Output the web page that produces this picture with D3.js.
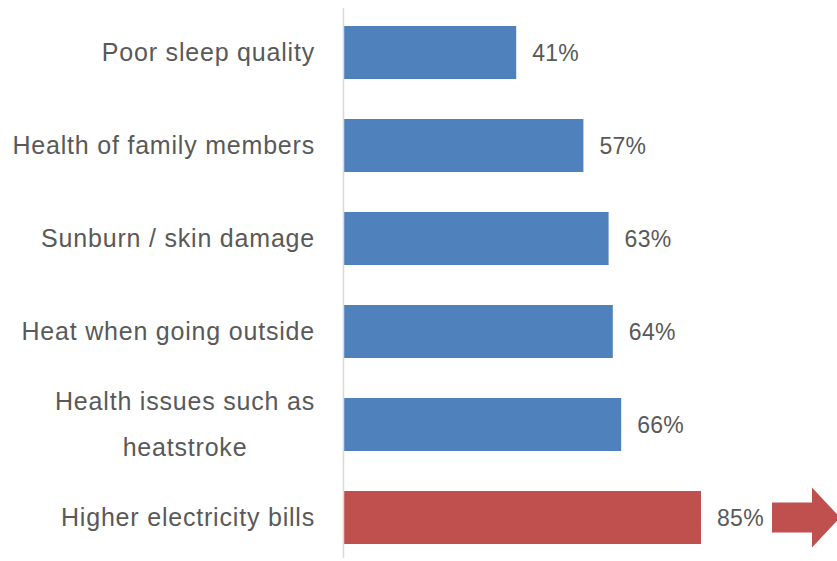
<!DOCTYPE html>
<html lang="en">
  <head>
    <meta charset="utf-8" />
    <title>Heat concerns</title>
    <script src="https://cdnjs.cloudflare.com/ajax/libs/d3/7.0.0/d3.min.js"></script>
    <style>
      body {
        margin: 0;
        background: #ffffff;
        font-family: "Liberation Sans", Arial, sans-serif;
      }
      .cat {
        font-size: 25px;
        letter-spacing: 0.8px;
        fill: #595959;
      }
      .val {
        font-size: 23px;
        letter-spacing: 0.3px;
        fill: #595959;
      }
    </style>
  </head>
  <body>
    <div id="chart"></div>
    <script>
      // data
      const categories = [
        ["Poor sleep quality"],
        ["Health of family members"],
        ["Sunburn / skin damage"],
        ["Heat when going outside"],
        ["Health issues such as", "heatstroke"],
        ["Higher electricity bills"],
      ];
      const values = [41, 57, 63, 64, 66, 85];
      const colors = ["#4f81bd", "#4f81bd", "#4f81bd", "#4f81bd", "#4f81bd", "#c0504d"];

      const width = 837;
      const height = 561;
      const left = 344;
      const labelRight = 315;

      const svg = d3
        .select("#chart")
        .append("svg")
        .attr("width", width)
        .attr("height", height);

      const x = d3.scaleLinear().domain([0, 100]).range([left, left + 420]);
      const y = d3
        .scaleBand()
        .domain(d3.range(values.length))
        .range([6, 564])
        .paddingInner(0.43)
        .paddingOuter(0.215);

      // bars
      svg
        .selectAll(".bar")
        .data(values)
        .enter()
        .append("rect")
        .attr("class", "bar")
        .attr("x", x(0))
        .attr("y", (d, i) => y(i))
        .attr("width", (d) => x(d) - x(0))
        .attr("height", y.bandwidth())
        .attr("fill", (d, i) => colors[i]);

      // vertical axis line
      svg
        .append("line")
        .attr("x1", x(0) - 0.5)
        .attr("x2", x(0) - 0.5)
        .attr("y1", 8)
        .attr("y2", 558)
        .attr("stroke", "#d9d9d9")
        .attr("stroke-width", 1.5);

      // value labels
      svg
        .selectAll(".val")
        .data(values)
        .enter()
        .append("text")
        .attr("class", "val")
        .attr("x", (d) => x(d) + 16)
        .attr("y", (d, i) => y(i) + y.bandwidth() / 2)
        .attr("dy", "0.35em")
        .text((d) => d + "%");

      // category labels (multi-line ones are centred as a block)
      const lineGap = 46;
      categories.forEach((lines, i) => {
        const cy = y(i) + y.bandwidth() / 2;
        const t = svg.append("text").attr("class", "cat");
        lines.forEach((ln, j) => {
          t.append("tspan")
            .attr("y", cy + (j - (lines.length - 1) / 2) * lineGap)
            .attr("dy", "0.35em")
            .text(ln);
        });
        if (lines.length === 1) {
          t.attr("text-anchor", "end").selectAll("tspan").attr("x", labelRight);
        } else {
          const w = d3.max(t.selectAll("tspan").nodes(), (n) => n.getComputedTextLength());
          t.attr("text-anchor", "middle")
            .selectAll("tspan")
            .attr("x", labelRight - w / 2);
        }
      });

      // red arrow beside the top bar
      const last = values.length - 1;
      const ay = y(last) + y.bandwidth() / 2;
      const ax = x(100) + 8;
      const arrow = [
        [ax, ay - 15],
        [ax + 40, ay - 15],
        [ax + 40, ay - 30],
        [ax + 68, ay],
        [ax + 40, ay + 30],
        [ax + 40, ay + 15],
        [ax, ay + 15],
      ];
      svg
        .append("path")
        .attr("d", d3.line()(arrow) + "Z")
        .attr("fill", "#c0504d");
    </script>
  </body>
</html>
